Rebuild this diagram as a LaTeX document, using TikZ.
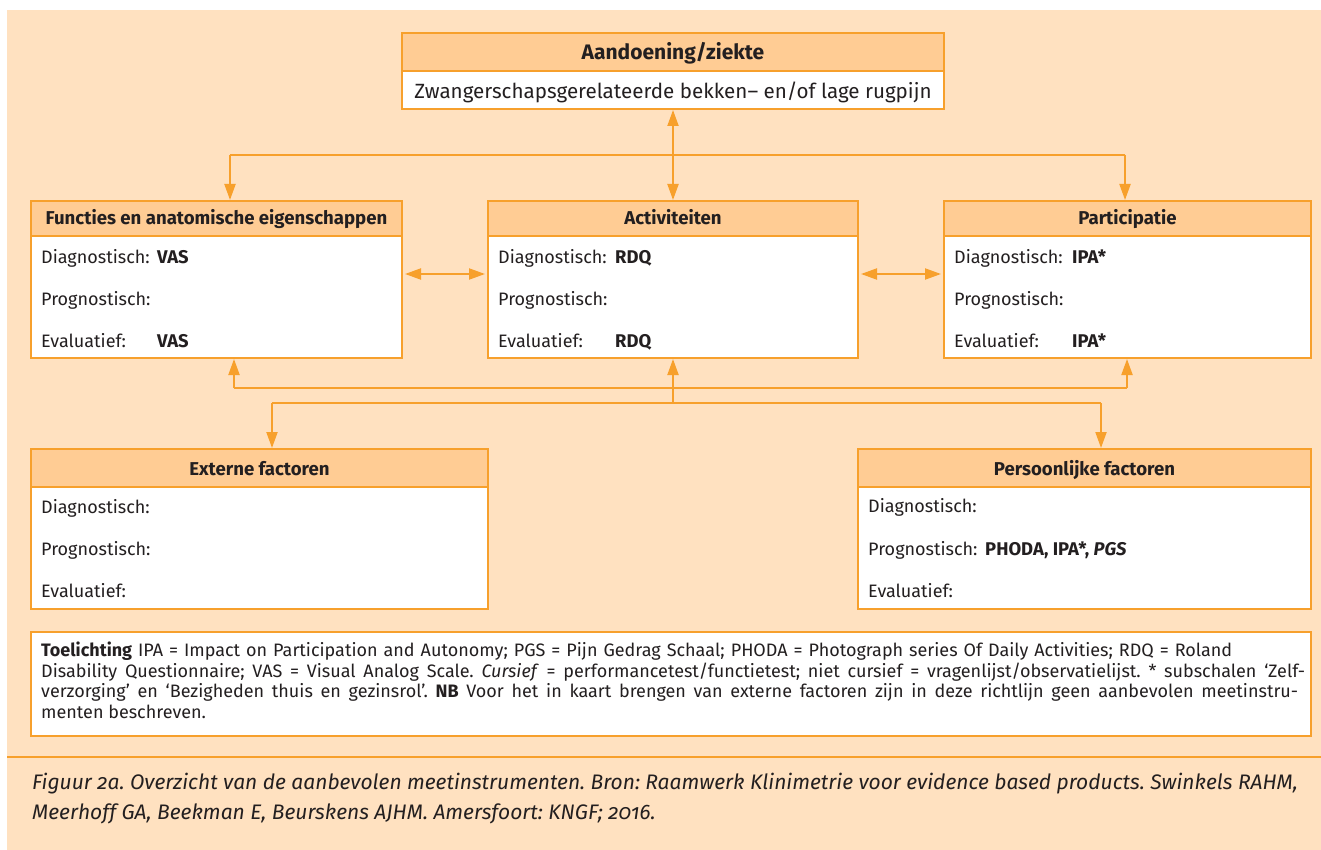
\documentclass[tikz,border=0pt]{standalone}
\usepackage{fontspec}
\setmainfont{Fira Sans}
\newfontfamily\capfont[Numbers=OldStyle]{Fira Sans}
\usetikzlibrary{arrows.meta,calc}
\definecolor{bgc}{HTML}{FFE1C0}
\definecolor{hdrc}{HTML}{FFCC94}
\definecolor{orc}{HTML}{F7A02C}
\definecolor{txc}{HTML}{231F20}
\frenchspacing
\begin{document}
\begin{tikzpicture}[x=1pt,y=-1pt,
  hdr/.style={draw=orc, line width=2pt, fill=hdrc, rectangle, anchor=north west, inner sep=0pt},
  bodybox/.style={draw=orc, line width=2pt, fill=white, rectangle, anchor=north west, inner sep=0pt},
  htxt/.style={anchor=base, font=\fontsize{18.6}{22}\selectfont\bfseries, text=txc, inner sep=0pt},
  btxt/.style={anchor=base west, font=\fontsize{18}{22}\selectfont, text=txc, inner sep=0pt},
  vtxt/.style={anchor=base west, font=\fontsize{18.4}{22}\selectfont\bfseries, text=txc, inner sep=0pt},
  ntxt/.style={anchor=base west, font=\fontsize{18}{20}\selectfont\frenchspacing, text=txc, inner sep=0pt},
  ctxt/.style={anchor=base west, font=\fontsize{21}{24}\selectfont\capfont\itshape\frenchspacing, text=txc, inner sep=0pt},
  conn/.style={draw=orc, line width=2pt},
  tip/.style={-{Triangle[length=16pt,width=11pt]}},
  dbl/.style={{Triangle[length=16pt,width=11pt]}-{Triangle[length=16pt,width=11pt]}}
]
\useasboundingbox (0,0) rectangle (1321,850);
\fill[bgc] (7,10) rectangle (1321,850);
\draw[orc, line width=2pt] (7,757) -- (1321,757);

% top box
\node[hdr, minimum width=542pt, minimum height=38pt] (topH) at (401,32) {};
\node[bodybox, minimum width=542pt, minimum height=38pt] (topB) at (401,70) {};
\node[htxt, font=\fontsize{21}{24}\selectfont\bfseries] (topHt) at (topH.center |- 0,60) {Aandoening/ziekte};
\node[anchor=base, font=\fontsize{20.6}{24}\selectfont, text=txc, inner sep=0pt] (topBt) at (topB.center |- 0,99) {Zwangerschapsgerelateerde bekken– en/of lage rugpijn};

% row 1
\node[hdr, minimum width=371pt, minimum height=35pt] (funH) at (30,200) {};
\node[bodybox, minimum width=371pt, minimum height=122pt] (funB) at (30,235) {};
\node[hdr, minimum width=370pt, minimum height=35pt] (actH) at (487,200) {};
\node[bodybox, minimum width=370pt, minimum height=122pt] (actB) at (487,235) {};
\node[hdr, minimum width=367pt, minimum height=35pt] (parH) at (943,200) {};
\node[bodybox, minimum width=367pt, minimum height=122pt] (parB) at (943,235) {};

\node[htxt] (funHt) at (funH.center |- 0,225) {Functies en anatomische eigenschappen};
\node[htxt] (actHt) at (actH.center |- 0,225) {Activiteiten};
\node[htxt] (parHt) at (parH.center |- 0,225) {Participatie};

\node[btxt] (fun1) at (41,263) {Diagnostisch:};
\node[vtxt] (fun1v) at (157,263) {VAS};
\node[btxt] (fun2) at (41,305) {Prognostisch:};
\node[btxt] (fun3) at (41,347) {Evaluatief:};
\node[vtxt] (fun3v) at (157,347) {VAS};

\node[btxt] (act1) at (498,263) {Diagnostisch:};
\node[vtxt] (act1v) at (615,263) {RDQ};
\node[btxt] (act2) at (498,305) {Prognostisch:};
\node[btxt] (act3) at (498,347) {Evaluatief:};
\node[vtxt] (act3v) at (615,347) {RDQ};

\node[btxt] (par1) at (954,263) {Diagnostisch:};
\node[vtxt] (par1v) at (1072,263) {IPA*};
\node[btxt] (par2) at (954,305) {Prognostisch:};
\node[btxt] (par3) at (954,347) {Evaluatief:};
\node[vtxt] (par3v) at (1072,347) {IPA*};

% row 2
\node[hdr, minimum width=457pt, minimum height=38pt] (extH) at (30,448) {};
\node[bodybox, minimum width=457pt, minimum height=122pt] (extB) at (30,486) {};
\node[hdr, minimum width=453pt, minimum height=38pt] (perH) at (857,448) {};
\node[bodybox, minimum width=453pt, minimum height=122pt] (perB) at (857,486) {};

\node[htxt] (extHt) at (extH.center |- 0,475) {Externe factoren};
\node[htxt] (perHt) at (perH.center |- 0,475) {Persoonlijke factoren};

\node[btxt] (ext1) at (41,513) {Diagnostisch:};
\node[btxt] (ext2) at (41,555) {Prognostisch:};
\node[btxt] (ext3) at (41,597) {Evaluatief:};

\node[btxt] (per1) at (868,512) {Diagnostisch:};
\node[btxt] (per2) at (868,555) {Prognostisch:};
\node[vtxt] (per2v) at (985,555) {PHODA, IPA*, \textit{PGS}};
\node[btxt] (per3) at (868,597) {Evaluatief:};

% note box
\node[bodybox, minimum width=1280pt, minimum height=104pt] (note) at (30,631) {};
\node[ntxt] (n1) at (41,656.5) {\makebox[1191pt][s]{\textbf{Toelichting} IPA = Impact on Participation and Autonomy; PGS = Pijn Gedrag Schaal; PHODA = Photograph series Of Daily Activities; RDQ = Roland}};
\node[ntxt] (n2) at (41,677) {\makebox[1264pt][s]{Disability Questionnaire; VAS = Visual Analog Scale. \textit{Cursief} = performancetest/functietest; niet cursief = vragenlijst/observatielijst. * subschalen ‘Zelf-}};
\node[ntxt] (n3) at (41,697.5) {\makebox[1257pt][s]{verzorging’ en ‘Bezigheden thuis en gezinsrol’. \textbf{NB} Voor het in kaart brengen van externe factoren zijn in deze richtlijn geen aanbevolen meetinstru-}};
\node[ntxt] (n4) at (41,718) {menten beschreven.};

% caption
\node[ctxt] (c1) at (32,789.5) {Figuur 2a. Overzicht van de aanbevolen meetinstrumenten. Bron: Raamwerk Klinimetrie voor evidence based products. Swinkels RAHM,};
\node[ctxt] (c2) at (32,819.5) {Meerhoff GA, Beekman E, Beurskens AJHM. Amersfoort: KNGF; 2016.};

% connectors
\draw[conn, dbl] (topB.south) -- (actH.north);
\coordinate (bl) at (230,155);
\coordinate (br) at (1125,155);
\draw[conn] (bl) -- (br);
\draw[conn, tip] (bl) -- (bl |- funH.north);
\draw[conn, tip] (br) -- (br |- parH.north);

\coordinate (ym) at (0,274);
\draw[conn, dbl, shorten <=2pt, shorten >=2pt] (funB.east |- ym) -- (actB.west |- ym);
\draw[conn, dbl, shorten <=2pt, shorten >=2pt] (actB.east |- ym) -- (parB.west |- ym);

\coordinate (u1) at (234,388);
\coordinate (u3) at (1127,388);
\draw[conn] (u1) -- (u3);
\draw[conn, tip] (u1) -- (u1 |- funB.south);
\draw[conn, tip] (u3) -- (u3 |- parB.south);

\coordinate (d1) at (272,403);
\coordinate (d2) at (1101,403);
\draw[conn] (d1) -- (d2);
\draw[conn, tip] (actB.south |- d1) -- (actB.south);
\draw[conn, tip] (d1) -- (d1 |- extH.north);
\draw[conn, tip] (d2) -- (d2 |- perH.north);
\end{tikzpicture}
\end{document}
